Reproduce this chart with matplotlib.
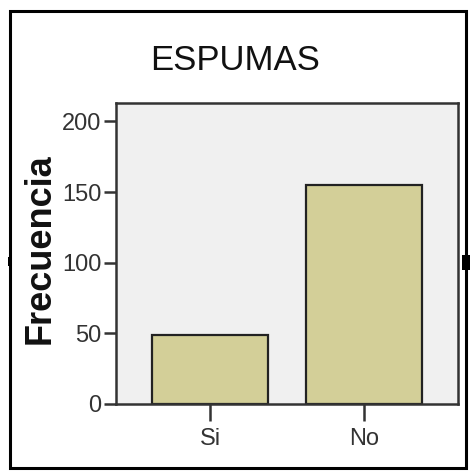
import matplotlib.pyplot as plt
from matplotlib.patches import Rectangle

categories = ['Si', 'No']
frecuencia = [49, 155]
yticks = [0, 50, 100, 150, 200]

plt.rcParams['font.family'] = ['Liberation Sans', 'DejaVu Sans']

fig = plt.figure(figsize=(4.71, 4.71), dpi=100)
fig.patch.set_facecolor('white')

# outer frame of the exported chart
fig.add_artist(Rectangle((0.021, 0.006), 0.968, 0.970, transform=fig.transFigure,
                         fill=False, edgecolor='black', linewidth=2.2))
fig.add_artist(Rectangle((0.981, 0.427), 0.017, 0.032, transform=fig.transFigure,
                         facecolor='black', edgecolor='none'))
fig.add_artist(Rectangle((0.017, 0.435), 0.009, 0.02, transform=fig.transFigure,
                         facecolor='black', edgecolor='none'))

ax = fig.add_axes([0.2463, 0.1423, 0.726, 0.639])
ax.set_facecolor('#F0F0F0')

x = range(len(categories))
ax.bar(x, frecuencia, width=0.75, color='#D3CF98', edgecolor='#222222', linewidth=1.6, zorder=2)

ax.set_xlim(-0.61, 1.61)
ax.set_ylim(0, 213)
ax.set_xticks(list(x))
ax.set_xticklabels(categories)
ax.set_yticks(yticks)

for s in ax.spines.values():
    s.set_color('#333333')
    s.set_linewidth(1.8)

ax.tick_params(axis='y', direction='out', length=8.5, width=1.8, color='#333333',
               labelsize=17, labelcolor='#333333', pad=2)
ax.tick_params(axis='x', direction='out', length=12, width=1.8, color='#333333',
               labelsize=17, labelcolor='#333333', pad=5)

ax.set_ylabel('Frecuencia', fontsize=26, fontweight='bold', color='#111111')
ax.yaxis.set_label_coords(-0.172, 0.515)
fig.text(0.5, 0.872, 'ESPUMAS', ha='center', va='center', fontsize=25, color='#111111')

plt.savefig('out.png', dpi=100)
